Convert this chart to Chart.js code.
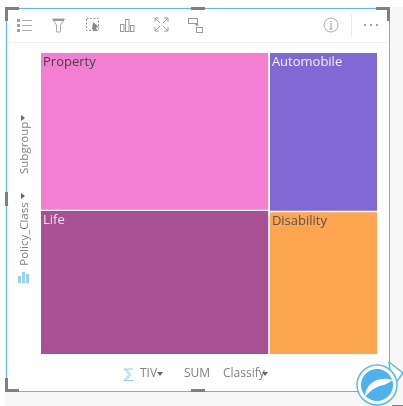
<!DOCTYPE html>
<html lang="en">
<head>
    <meta charset="UTF-8">
    <title>TIV by Policy Class</title>
    <script src="https://cdn.jsdelivr.net/npm/chart.js"></script>
    <style>
        html, body { margin: 0; padding: 0; background: white; overflow: hidden; }
        body { width: 403px; height: 406px; position: relative; font-family: "Open Sans", sans-serif; color: #808080; }
        .bg { position: absolute; left: 5px; top: 7px; width: 398px; height: 399px; background: #f7f7f7; }
        .card { position: absolute; left: 6px; top: 8px; width: 382px; height: 382px; background: white; border: 1px solid #5cb8f0; }
        .toolbar-line { position: absolute; left: 7px; top: 42px; width: 381px; height: 1px; background: #f1f1f1; }
        .sep { position: absolute; left: 351px; top: 14px; width: 1px; height: 23px; background: #ececec; }
        #chart { position: absolute; left: 0; top: 0; }
        .handle { position: absolute; background: #808080; }
        .label { position: absolute; font-size: 12px; white-space: nowrap; line-height: 14px; }
        .rot { transform: rotate(-90deg); transform-origin: center; font-size: 11.5px; }
        .caret { position: absolute; width: 0; height: 0; border-left: 3.5px solid transparent; border-right: 3.5px solid transparent; border-top: 4px solid #666; }
        svg.icons { position: absolute; left: 0; top: 0; }
    </style>
</head>
<body>
    <div class="bg"></div>
    <div class="card"></div>
    <div class="toolbar-line"></div>
    <div class="sep"></div>

    <!-- Resize handles -->
    <div class="handle" style="left:5px;top:7px;width:14px;height:3px"></div>
    <div class="handle" style="left:5px;top:7px;width:3px;height:14px"></div>
    <div class="handle" style="left:191px;top:7px;width:14px;height:3px"></div>
    <div class="handle" style="left:376px;top:7px;width:14px;height:3px"></div>
    <div class="handle" style="left:387px;top:7px;width:3px;height:14px"></div>
    <div class="handle" style="left:5px;top:192px;width:3px;height:14px"></div>
    <div class="handle" style="left:5px;top:378px;width:3px;height:14px"></div>
    <div class="handle" style="left:5px;top:389px;width:14px;height:3px"></div>
    <div class="handle" style="left:191px;top:389px;width:14px;height:3px"></div>
    <div class="handle" style="left:392px;top:405px;width:11px;height:1px"></div>

    <canvas id="chart" width="403" height="406"></canvas>

    <!-- Toolbar, axis and share icons -->
    <svg class="icons" width="403" height="406" fill="none" stroke="#999" stroke-width="1">
        <path d="M22 20.500h10M22 25.500h10M22 30.500h10" stroke="#aaa"/>
        <path d="M17 19h3v3h-3zM17 24h3v3h-3zM17 29h3v3h-3z" fill="#a0a0a0" stroke="none"/>
        <path d="M52.500 19h12l-4 6v7h-4v-7z" stroke="#aaa"/>
        <path d="M53 19h11v2h-11z" fill="#999" stroke="none"/>
        <rect x="86.500" y="18.500" width="12" height="12" stroke-dasharray="2 1.500"/>
        <path d="M93 22l6 5-3 .5 1 3-2 .5-3-2z" fill="#888" stroke="none"/>
        <rect x="120.500" y="24.500" width="3.500" height="7"/>
        <rect x="125.500" y="19.500" width="3.500" height="12"/>
        <rect x="130.500" y="25.500" width="3.500" height="6"/>
        <path d="M155 18l5 5M168 18l-5 5M155 31l5-5M168 31l-5-5M155 18h4M155 18v4M168 18h-4M168 18v4M155 31h4M155 31v-4M168 31h-4M168 31v-4" stroke="#a0a0a0"/>
        <rect x="188.500" y="18.500" width="9" height="5"/>
        <rect x="196.500" y="27.500" width="6" height="5"/>
        <path d="M198 24l-2.500 0 1.500 2z" fill="#888"/>
        <circle cx="331" cy="25" r="7" stroke="#aaa"/>
        <path d="M331 23v6M331 21v1M329.500 29h3" stroke="#999"/>
        <path d="M364 25h2M370 25h2M376 25h2" stroke="#888" stroke-width="1.500"/>
        <!-- Policy_Class bar icon -->
        <path d="M18 276h3v7h-3zM22 272h3v11h-3zM26 274h3v9h-3z" fill="#9ad2f5" stroke="none"/>
        <!-- Sigma -->
        <path d="M133 369h-9l5 5.500-5 6h9M126 369l5 5.500-5 6" stroke="#8ccdf5"/>
        <!-- Share button -->
        <path d="M389 362l14 11-11 15z" fill="white" stroke="#5cb8f0" stroke-width="1.500" stroke-linejoin="round"/>
        <circle cx="377" cy="385" r="20" fill="white" stroke="#5cb8f0" stroke-width="1.500"/>
        <circle cx="377" cy="385" r="16" fill="#4fb1ee" stroke="none"/>
        <path d="M365 397c0-12 11-22 28-17-4 2-6 4-9 5-8 1-14 6-19 12z" fill="white" stroke="none"/>
    </svg>

    <!-- Axis text -->
    <div class="label rot" style="left:2px;top:145px;width:44px;text-align:center">Subgroup</div>
    <div class="caret" style="left:20px;top:116px;transform:rotate(-90deg)"></div>
    <div class="label rot" style="left:-10px;top:227px;width:68px;text-align:center">Policy_Class</div>
    <div class="caret" style="left:20px;top:194px;transform:rotate(-90deg)"></div>
    <div class="label" style="left:140px;top:366px">TIV</div>
    <div class="caret" style="left:157px;top:372px"></div>
    <div class="label" style="left:184px;top:366px">SUM</div>
    <div class="label" style="left:223px;top:366px">Classify</div>
    <div class="caret" style="left:262px;top:372px"></div>

    <script>
        // TIV share of each class
        const leftClasses = ['Property', 'Life'];
        const leftValues = [35.5, 32.4];
        const rightClasses = ['Automobile', 'Disability'];
        const rightValues = [16.9, 15.2];
        const leftColors = ['#f27fd2', '#a94f94'];
        const rightColors = ['#8069d4', '#fea64f'];
        const leftText = ['#444444', '#f3e6f0'];
        const rightText = ['#f1eefb', '#555555'];

        const sum = arr => arr.reduce((a, b) => a + b, 0);
        const GAP = 0.0022; // half of the white line between tiles, in axis units

        // Each tile is a two point line filled down to its lower edge
        function buildColumn(names, values, colors, textColors, x0, x1) {
            const total = sum(values);
            let top = 1;
            return names.map((name, i) => {
                const bottom = top - values[i] / total;
                const ds = {
                    label: name,
                    data: [{ x: x0, y: top }, { x: x1, y: top }],
                    backgroundColor: colors[i],
                    fill: { value: bottom + (i < names.length - 1 ? GAP * 1.1 : 0) },
                    borderWidth: 0,
                    pointRadius: 0,
                    tension: 0,
                    textColor: textColors[i]
                };
                top = bottom - GAP * 1.1;
                return ds;
            });
        }

        const split = sum(leftValues) / (sum(leftValues) + sum(rightValues));
        const datasets = buildColumn(leftClasses, leftValues, leftColors, leftText, 0, split - GAP)
            .concat(buildColumn(rightClasses, rightValues, rightColors, rightText, split + GAP, 1));

        // Class name in the top left corner of each tile
        const tileLabels = {
            id: 'tileLabels',
            afterDatasetsDraw(chart) {
                const { ctx, scales } = chart;
                ctx.save();
                ctx.font = '13px "Open Sans", sans-serif';
                ctx.textBaseline = 'top';
                chart.data.datasets.forEach(ds => {
                    ctx.fillStyle = ds.textColor;
                    ctx.fillText(ds.label, scales.x.getPixelForValue(ds.data[0].x) + 2, scales.y.getPixelForValue(ds.data[0].y) + 3);
                });
                ctx.restore();
            }
        };

        new Chart(document.getElementById('chart'), {
            type: 'line',
            data: { datasets: datasets },
            plugins: [tileLabels],
            options: {
                responsive: false,
                animation: false,
                layout: { padding: { left: 41, top: 53, right: 26, bottom: 52 } },
                plugins: { legend: { display: false }, tooltip: { enabled: false } },
                scales: {
                    x: { type: 'linear', min: 0, max: 1, display: false },
                    y: { type: 'linear', min: 0, max: 1, display: false }
                }
            }
        });
    </script>
</body>
</html>
